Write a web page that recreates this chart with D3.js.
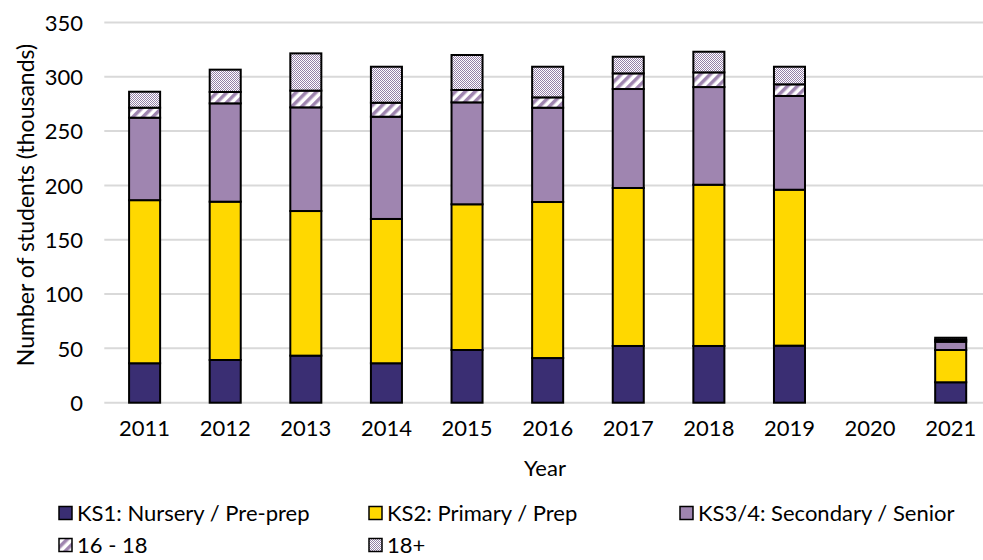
<!DOCTYPE html>
<html><head><meta charset="utf-8">
<script src="https://cdn.jsdelivr.net/npm/d3@7"></script>
<style>body{margin:0;background:#fff}svg{display:block}text{font-family:Lato,"Open Sans",sans-serif;fill:#000}</style>
</head><body>
<svg id="c" width="983" height="560"></svg>
<script>
const years = ["2011","2012","2013","2014","2015","2016","2017","2018","2019","2020","2021"];
const seriesNames = ["KS1: Nursery / Pre-prep","KS2: Primary / Prep","KS3/4: Secondary / Senior","16 - 18","18+"];
const ks1   = [36.3, 39.3, 43.3, 36.3, 48.5, 41.1, 52.2, 52.2, 52.5, 0, 18.8];
const ks2   = [150.1,145.7,133.1,132.8,134.1,143.6,145.4,148.4,143.5, 0, 29.7];
const ks34  = [75.9, 90.5, 95.4, 94.1, 93.8, 86.8, 91.1, 89.9, 86.3, 0, 7.6];
const s1618 = [9.2, 10.5, 15.4, 12.9, 11.4, 9.5, 14.4, 13.5, 10.7, 0, 1.8];
const s18p  = [14.7, 20.5, 34.3, 33.1, 32.2, 28.2, 15.3, 19.0, 16.2, 0, 1.9];
const yTicks = [0,50,100,150,200,250,300,350];

const keys = ["ks1","ks2","ks34","s1618","s18p"];
const table = years.map((y,i)=>({year:y, ks1:ks1[i], ks2:ks2[i], ks34:ks34[i], s1618:s1618[i], s18p:s18p[i]}));
const fills = {ks1:"#3a2e73", ks2:"#ffd800", ks34:"#9f85b0", s1618:"url(#stripes)", s18p:"url(#checker)"};

const svg = d3.select("#c");
const defs = svg.append("defs");
const st = defs.append("pattern").attr("id","stripes").attr("patternUnits","userSpaceOnUse")
  .attr("width",7).attr("height",7).attr("patternTransform","rotate(45)");
st.append("rect").attr("width",7).attr("height",7).attr("fill","#fff");
st.append("rect").attr("width",3.5).attr("height",7).attr("fill","#9f85b0");
const ck = defs.append("pattern").attr("id","checker").attr("patternUnits","userSpaceOnUse")
  .attr("width",2).attr("height",2);
ck.append("rect").attr("width",2).attr("height",2).attr("fill","#fff");
ck.append("rect").attr("width",1).attr("height",1).attr("fill","#9480a8");
ck.append("rect").attr("x",1).attr("y",1).attr("width",1).attr("height",1).attr("fill","#9480a8");

const x = d3.scaleBand().domain(years).range([104.3, 991]).paddingInner(0.615).paddingOuter(0.3075);
const y = d3.scaleLinear().domain([0,350]).range([402.7, 22.4]);

// gridlines
svg.append("g").selectAll("line").data(yTicks).join("line")
  .attr("x1",104.3).attr("x2",991).attr("y1",d=>y(d)).attr("y2",d=>y(d))
  .attr("stroke","#d9d9d9").attr("stroke-width",2);

// y axis labels
const yAxis = d3.axisLeft(y).tickValues(yTicks).tickSize(0).tickPadding(0);
const ya = svg.append("g").attr("transform","translate(83,0)").call(yAxis);
ya.select(".domain").remove();
ya.selectAll("text").attr("font-size",22).attr("dy","0.35em");

// x axis labels
const xAxis = d3.axisBottom(x).tickSize(0).tickPadding(0);
const xa = svg.append("g").attr("transform","translate(0,423)").call(xAxis);
xa.select(".domain").remove();
xa.selectAll("text").attr("font-size",22).attr("dy","0.6em");

// bars
const stack = d3.stack().keys(keys)(table);
svg.append("g").selectAll("g").data(stack).join("g")
  .attr("fill",d=>fills[d.key])
  .selectAll("rect").data(d=>d.filter(v=>v[1]-v[0]>0)).join("rect")
  .attr("x",d=>x(d.data.year)).attr("width",x.bandwidth())
  .attr("y",d=>y(d[1])).attr("height",d=>y(d[0])-y(d[1]))
  .attr("stroke","#000").attr("stroke-width",2);

// axis titles
svg.append("text").attr("x",545).attr("y",476).attr("text-anchor","middle").attr("font-size",22).text("Year");
svg.append("text").attr("transform","translate(34,205) rotate(-90)").attr("text-anchor","middle")
  .attr("font-size",23).text("Number of students (thousands)");

// legend
const legPos = [[59,513],[369,513],[680,513],[59,545],[369,545]];
const lg = svg.append("g").selectAll("g").data(keys).join("g")
  .attr("transform",(d,i)=>`translate(${legPos[i][0]},${legPos[i][1]})`);
lg.append("rect").attr("x",0).attr("y",-6.5).attr("width",13).attr("height",13)
  .attr("fill",d=>fills[d]).attr("stroke","#000").attr("stroke-width",1.5);
lg.append("text").attr("x",18).attr("dy","0.35em").attr("font-size",22).text((d,i)=>seriesNames[i]);
</script>
</body></html>
